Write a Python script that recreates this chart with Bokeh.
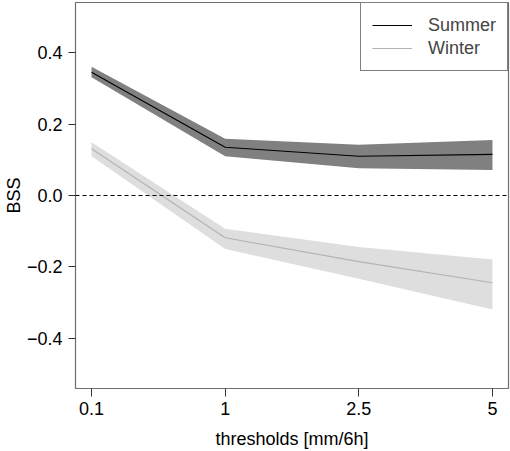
from bokeh.plotting import figure
from bokeh.models import FixedTicker, Span, Legend, LegendItem, Range1d
from bokeh.embed import file_html
from bokeh.resources import INLINE

thresholds = ["0.1", "1", "2.5", "5"]
xpos = [1, 2, 3, 4]

summer_mean = [0.345, 0.135, 0.110, 0.115]
summer_lo = [0.331, 0.110, 0.076, 0.071]
summer_hi = [0.360, 0.159, 0.142, 0.155]

winter_mean = [0.131, -0.118, -0.185, -0.244]
winter_lo = [0.110, -0.150, -0.233, -0.319]
winter_hi = [0.149, -0.093, -0.144, -0.179]

yticks = [-0.4, -0.2, 0.0, 0.2, 0.4]
ytick_labels = ["\u22120.4", "\u22120.2", "0.0", "0.2", "0.4"]

FONT = "Liberation Sans"
FS = "18px"

p = figure(width=510, height=451, output_backend="svg", toolbar_location=None,
           x_range=Range1d(0.88, 4.12), y_range=Range1d(-0.54, 0.54),
           min_border_left=75, min_border_right=2, min_border_top=2, min_border_bottom=62)
p.xgrid.visible = False
p.ygrid.visible = False
p.outline_line_color = "#6e6e6e"
p.outline_line_width = 1.2
p.background_fill_color = "white"
p.border_fill_color = "white"

# bands
p.varea(x=xpos, y1=summer_lo, y2=summer_hi, fill_color="#808080", fill_alpha=1.0)
p.varea(x=xpos, y1=winter_lo, y2=winter_hi, fill_color="#dedede", fill_alpha=1.0)

r_s = p.line(xpos, summer_mean, line_color="black", line_width=1.1)
r_w = p.line(xpos, winter_mean, line_color="#b3b3b3", line_width=1.1)

p.add_layout(Span(location=0.0, dimension="width", line_color="black",
                  line_dash="4 3", line_width=1))

for ax in (p.xaxis[0], p.yaxis[0]):
    ax.axis_line_color = None
    ax.major_tick_in = 0
    ax.major_tick_line_color = "#333333"
    ax.minor_tick_line_color = None
    ax.major_label_text_font = FONT
    ax.major_label_text_font_size = FS
    ax.major_label_text_color = "black"
    ax.axis_label_text_font = FONT
    ax.axis_label_text_font_size = FS
    ax.axis_label_text_font_style = "normal"
    ax.axis_label_text_color = "black"

p.xaxis.ticker = FixedTicker(ticks=xpos)
p.xaxis.major_label_overrides = {x: t for x, t in zip(xpos, thresholds)}
p.xaxis.major_tick_out = 8
p.xaxis.major_label_standoff = 5
p.xaxis.axis_label = "thresholds [mm/6h]"
p.xaxis.axis_label_standoff = 11

p.yaxis.ticker = FixedTicker(ticks=yticks)
p.yaxis.major_label_overrides = {y: t for y, t in zip(yticks, ytick_labels)}
p.yaxis.major_tick_out = 7
p.yaxis.major_label_standoff = 6
p.yaxis.axis_label = "BSS"
p.yaxis.axis_label_standoff = 0

legend = Legend(items=[LegendItem(label="Summer", renderers=[r_s]),
                       LegendItem(label="Winter", renderers=[r_w])],
                location="top_right", margin=0, padding=11, spacing=1,
                glyph_width=40, glyph_height=22, label_height=22, label_width=68,
                label_standoff=16, border_line_color="black", border_line_width=1,
                background_fill_color="white", background_fill_alpha=1.0,
                label_text_font=FONT, label_text_font_size=FS)
p.add_layout(legend)

open("out.html", "w").write(file_html(p, INLINE))
